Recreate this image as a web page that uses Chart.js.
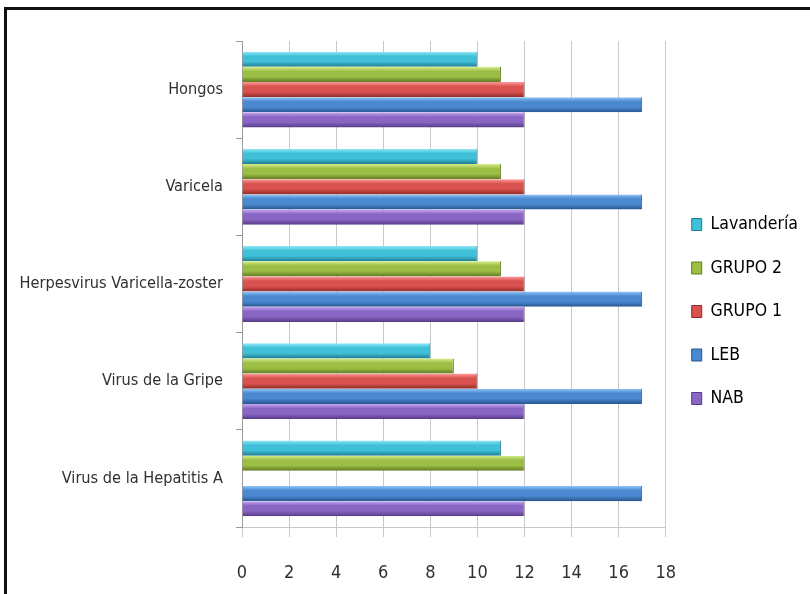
<!DOCTYPE html>
<html>
<head>
<meta charset="utf-8">
<script src="https://cdn.jsdelivr.net/npm/chart.js@4/dist/chart.umd.min.js"></script>
<style>
  html, body { margin: 0; padding: 0; background: #fff; overflow: hidden; }
  #wrap { position: relative; width: 810px; height: 594px; }
  #frame { position: absolute; left: 4px; top: 7px; width: 900px; height: 700px; border-left: 3px solid #111; border-top: 3px solid #111; pointer-events: none; }
</style>
</head>
<body>
<div id="wrap">
  <canvas id="barChart" width="810" height="594"></canvas>
  <div id="frame"></div>
</div>
<script>
const ctx = document.getElementById("barChart").getContext("2d");

const categories = [
  "Hongos",
  "Varicela",
  "Herpesvirus Varicella-zoster",
  "Virus de la Gripe",
  "Virus de la Hepatitis A",
];
const seriesNames = ["Lavandería", "GRUPO 2", "GRUPO 1", "LEB", "NAB"];
const lavanderia = [10, 10, 10, 8, 11];
const grupo2 = [11, 11, 11, 9, 12];
const grupo1 = [12, 12, 12, 10, null];
const leb = [17, 17, 17, 17, 17];
const nab = [12, 12, 12, 12, 12];
const xTicks = [0, 2, 4, 6, 8, 10, 12, 14, 16, 18];

// light / base / dark per series, for the cylinder look
const SHADES = {
  cyan: ["#8ee9f7", "#3fc0d8", "#1f7d8f"],
  green: ["#d6ee8a", "#9cbe45", "#5d7a22"],
  red: ["#ff9a97", "#d9524f", "#8f2a28"],
  blue: ["#8ec4f7", "#4a88d0", "#27568f"],
  purple: ["#c7a8f2", "#8a66c4", "#553a86"],
};

const FONT = "'Liberation Sans Narrow', 'DejaVu Sans Condensed', 'Arial Narrow', sans-serif";
Chart.defaults.font.family = FONT;
Chart.defaults.color = "#404040";

function shadeBar(key) {
  return (c) => {
    const s = SHADES[key];
    const el = c.element;
    if (!el || !el.height || el.y == null) return s[1];
    const top = el.y - el.height / 2;
    const bot = el.y + el.height / 2;
    const g = c.chart.ctx.createLinearGradient(0, top, 0, bot);
    g.addColorStop(0, s[0]);
    g.addColorStop(0.3, s[1]);
    g.addColorStop(0.65, s[1]);
    g.addColorStop(1, s[2]);
    return g;
  };
}

function makeSet(label, data, key) {
  return {
    label: label,
    data: data,
    backgroundColor: shadeBar(key),
    borderColor: SHADES[key][2],
    borderWidth: { top: 0, left: 0, right: 1, bottom: 0 },
    borderSkipped: false,
    barPercentage: 1.0,
    categoryPercentage: 0.78,
  };
}

// nudge the legend up a little, it sits slightly above center in the original
const legendNudge = {
  id: "legendNudge",
  afterLayout(chart) {
    if (chart.legend) {
      chart.legend.top -= 6;
      chart.legend.bottom -= 6;
    }
  },
};

const data = {
  labels: categories,
  datasets: [
    makeSet(seriesNames[0], lavanderia, "cyan"),
    makeSet(seriesNames[1], grupo2, "green"),
    makeSet(seriesNames[2], grupo1, "red"),
    makeSet(seriesNames[3], leb, "blue"),
    makeSet(seriesNames[4], nab, "purple"),
  ],
};

const config = {
  type: "bar",
  data: data,
  plugins: [legendNudge],
  options: {
    indexAxis: "y",
    responsive: false,
    animation: false,
    layout: {
      padding: { left: 16, top: 41, right: 2, bottom: 0 },
    },
    scales: {
      x: {
        min: 0,
        max: 18,
        afterBuildTicks: (axis) => {
          axis.ticks = xTicks.map((v) => ({ value: v }));
        },
        afterFit: (scale) => {
          scale.height = 67;
        },
        grid: {
          color: "#c8c8c8",
          lineWidth: 1,
          tickLength: 10,
          drawTicks: true,
        },
        border: { color: "#c8c8c8" },
        ticks: {
          font: { size: 18 },
          padding: 26,
          color: "#303030",
        },
      },
      y: {
        afterFit: (scale) => {
          scale.width = 226;
        },
        grid: {
          drawOnChartArea: false,
          tickLength: 6,
          color: "#9a9a9a",
        },
        border: { color: "#9a9a9a" },
        ticks: {
          font: { size: 16.2 },
          padding: 13,
          color: "#303030",
        },
      },
    },
    plugins: {
      legend: {
        position: "right",
        labels: {
          boxWidth: 10,
          boxHeight: 12,
          padding: 26,
          font: { size: 17.5 },
          color: "#303030",
          generateLabels: (chart) =>
            chart.data.datasets.map((ds, i) => {
              const key = Object.keys(SHADES)[i];
              return {
                text: ds.label,
                fillStyle: SHADES[key][1],
                strokeStyle: SHADES[key][2],
                lineWidth: 1,
                datasetIndex: i,
              };
            }),
        },
      },
      tooltip: { enabled: false },
    },
  },
};

const barChart = new Chart(ctx, config);
// second pass so the gradients know each bar's position
barChart.update("none");
</script>
</body>
</html>
